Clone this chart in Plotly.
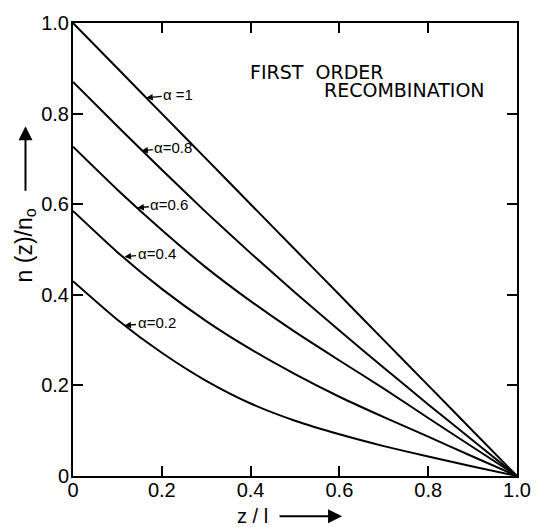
import plotly.graph_objects as go

z = [0.0, 0.1, 0.2, 0.3, 0.4, 0.5, 0.6, 0.7, 0.8, 0.9, 1.0]
n_a10 = [1.0, 0.9, 0.8, 0.7, 0.6, 0.5, 0.4, 0.3, 0.2, 0.1, 0.0]
n_a08 = [0.87, 0.772, 0.676, 0.582, 0.492, 0.405, 0.321, 0.239, 0.158, 0.079, 0.0]
n_a06 = [0.727, 0.632, 0.543, 0.46, 0.386, 0.318, 0.255, 0.193, 0.128, 0.064, 0.0]
n_a04 = [0.585, 0.494, 0.413, 0.342, 0.28, 0.225, 0.175, 0.13, 0.087, 0.043, 0.0]
n_a02 = [0.43, 0.345, 0.272, 0.21, 0.16, 0.122, 0.092, 0.066, 0.043, 0.021, 0.0]

series = [("α=1", n_a10), ("α=0.8", n_a08), ("α=0.6", n_a06), ("α=0.4", n_a04), ("α=0.2", n_a02)]

# label texts and the point on each curve where the small arrow points
label_text = ["α =1", "α=0.8", "α=0.6", "α=0.4", "α=0.2"]
label_z = [0.165, 0.154, 0.145, 0.116, 0.116]
label_n = [0.835, 0.718, 0.592, 0.484, 0.332]

xticks = [0, 0.2, 0.4, 0.6, 0.8, 1.0]
xtick_text = ["0", "0.2", "0.4", "0.6", "0.8", "1.0"]
yticks = [0, 0.2, 0.4, 0.6, 0.8, 1.0]
ytick_text = ["0", "0.2", "0.4", "0.6", "0.8", "1.0"]

fig = go.Figure()
for name, vals in series:
    fig.add_trace(go.Scatter(x=z, y=vals, mode="lines", name=name,
                             line=dict(color="black", width=2, shape="spline", smoothing=0.6),
                             showlegend=False, hoverinfo="skip"))

font_main = "Liberation Sans, Arial, sans-serif"
font_wide = "DejaVu Sans, Verdana, sans-serif"

for t, lx, ly in zip(label_text, label_z, label_n):
    fig.add_annotation(x=lx, y=ly, xref="x", yref="y", text=t, showarrow=True,
                       ax=32, ay=-3, arrowhead=2, arrowsize=1, arrowwidth=1.3,
                       arrowcolor="black", standoff=0,
                       font=dict(family=font_main, size=15, color="black"))

fig.add_annotation(x=0.394, y=0.892, xref="paper", yref="paper", text="FIRST  ORDER",
                   showarrow=False, xanchor="left", yanchor="middle",
                   font=dict(family=font_wide, size=19, color="black"))
fig.add_annotation(x=0.561, y=0.853, xref="paper", yref="paper", text="RECOMBINATION",
                   showarrow=False, xanchor="left", yanchor="middle",
                   font=dict(family=font_wide, size=19, color="black"))

# axis titles
fig.add_annotation(x=-0.107, y=0.51, xref="paper", yref="paper",
                   text="n (z)/n<sub>o</sub>", textangle=-90, showarrow=False,
                   font=dict(family=font_main, size=23, color="black"),
                   xanchor="center", yanchor="middle")
fig.add_annotation(x=-0.107, y=0.772, xref="paper", yref="paper", text="",
                   showarrow=True, ax=0, ay=66, arrowhead=2, arrowsize=1.4,
                   arrowwidth=2, arrowcolor="black")
fig.add_annotation(x=0.405, y=-0.089, xref="paper", yref="paper", text="z / l",
                   showarrow=False, font=dict(family=font_main, size=20, color="black"),
                   xanchor="center", yanchor="middle")
fig.add_annotation(x=0.606, y=-0.089, xref="paper", yref="paper", text="",
                   showarrow=True, ax=-64, ay=0, arrowhead=2, arrowsize=1.4,
                   arrowwidth=2, arrowcolor="black")

axis_common = dict(showgrid=False, zeroline=False, showline=True, linecolor="black",
                   linewidth=2, mirror="allticks", ticks="inside", ticklen=10,
                   tickwidth=1.5, tickcolor="black",
                   tickfont=dict(family=font_main, size=20, color="black"))

fig.update_xaxes(range=[0, 1], tickvals=xticks, ticktext=xtick_text,
                 ticklabelstandoff=-5, **axis_common)
fig.update_yaxes(range=[0, 1], tickvals=yticks, ticktext=ytick_text,
                 ticklabelstandoff=-2, **axis_common)

fig.update_layout(width=543, height=527, margin=dict(l=73, r=21, t=15, b=51),
                  paper_bgcolor="white", plot_bgcolor="white")

fig.write_html("out.html", config={"displayModeBar": False},
               post_script="document.body.style.margin='0';document.body.style.padding='0';")
